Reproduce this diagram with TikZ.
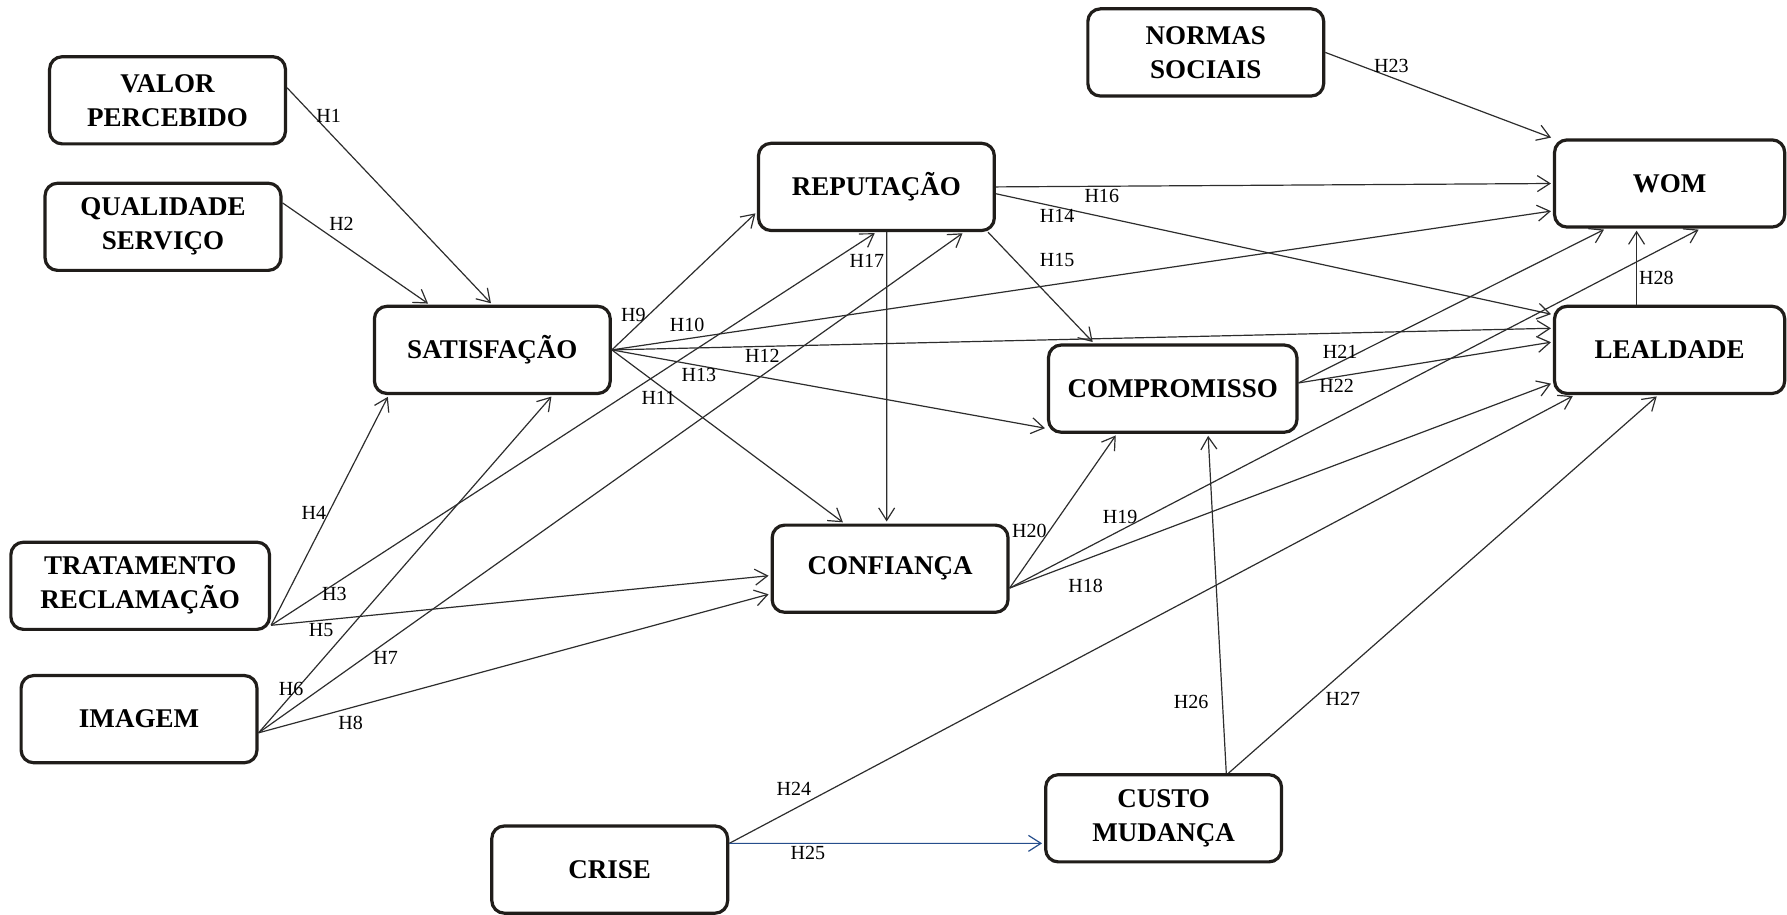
\documentclass[tikz,border=0pt]{standalone}
\usepackage{fontspec}
\setmainfont{Liberation Serif}
\usetikzlibrary{arrows.meta,positioning}

\definecolor{boxline}{RGB}{32,29,26}
\definecolor{arrowline}{RGB}{45,45,45}
\definecolor{hblue}{RGB}{38,78,140}

\begin{document}
\begin{tikzpicture}[
    x = 0.02cm, y = -0.02cm, % pixel grid of the figure
    > = {Straight Barb[length=2.2mm,width=2.8mm]}, % arrow head style
    shorten > = 1pt, % don't touch arrow head to node
    every edge/.append style = {draw = arrowline},
    semithick % line style
    ]

    \tikzset{
    construct/.style = {
        draw = boxline,
        line width = 1.6pt,
        rounded corners = 0.22cm,
        fill = white,
        minimum width = 4.14cm,
        minimum height = 1.53cm,
        align = center,
        font = \fontsize{13.5}{17}\selectfont\bfseries
        },
    hyp/.style = {font = \fontsize{10}{12}\selectfont, inner sep = 1pt}
    }
    \useasboundingbox (0,0) rectangle (1568,802);

    \node[construct] (val) at (147,88) {VALOR\\PERCEBIDO};
    \node[construct] (qual) at (143,199) {QUALIDADE\\SERVIÇO};
    \node[construct] (sat) at (432,307) {SATISFAÇÃO};
    \node[construct] (rep) at (769,164) {REPUTAÇÃO};
    \node[construct] (norm) at (1058,46) {NORMAS\\SOCIAIS};
    \node[construct, minimum width=4.04cm] (wom) at (1465,161) {WOM};
    \node[construct, minimum width=4.04cm] (leal) at (1465,307) {LEALDADE};
    \node[construct, minimum width=4.36cm] (comp) at (1029,341) {COMPROMISSO};
    \node[construct] (conf) at (781,499) {CONFIANÇA};
    \node[construct, minimum width=4.54cm] (trat) at (123,514) {TRATAMENTO\\RECLAMAÇÃO};
    \node[construct] (img) at (122,631) {IMAGEM};
    \node[construct] (crise) at (535,763) {CRISE};
    \node[construct] (custo) at (1021,718) {CUSTO\\MUDANÇA};

    \path[->] ([yshift=0.22cm]val.east) edge node[hyp, pos=0.13, right] {H1} (sat.north);
    \path[->] ([yshift=0.42cm]qual.east) edge node[hyp, pos=0.3, above right] {H2} ([xshift=-1.1cm]sat.north);
    \path[->] ([yshift=0.1cm]trat.south east) edge node[hyp, pos=0.08, right] {H3} (rep.south);
    \path[->] ([yshift=0.1cm]trat.south east) edge node[hyp, pos=0.49, left] {H4} ([xshift=0.28cm]sat.south west);
    \path[->] ([yshift=0.1cm]trat.south east) edge node[hyp, pos=0.1, below] {H5} ([yshift=-0.12cm]conf.west);
    \path[->] ([yshift=-0.24cm]img.east) edge node[hyp, pos=0.13, left, xshift=0.16cm] {H6} ([xshift=1.06cm]sat.south);
    \path[->] ([yshift=-0.24cm]img.east) edge node[hyp, pos=0.18, below=3pt] {H7} ([xshift=1.54cm]rep.south);
    \path[->] ([yshift=-0.24cm]img.east) edge node[hyp, pos=0.18, below=3pt] {H8} ([yshift=-0.44cm]conf.west);
    \path[->] (sat.east) edge node[hyp, pos=0.25, left] {H9} ([yshift=-0.44cm]rep.west);
    \path[->] (sat.east) edge node[hyp, pos=0.08, above=2pt] {H10} ([yshift=-0.48cm]wom.west);
    \path[->] (sat.east) edge node[hyp, pos=0.2, below=2pt] {H11} ([xshift=-0.8cm]conf.north);
    \path[->] (sat.east) edge node[hyp, pos=0.16, below] {H12} ([yshift=0.38cm]leal.west);
    \path[->] (sat.east) edge node[hyp, pos=0.2, below] {H13} ([yshift=-0.7cm]comp.west);
    \path[->] ([yshift=-0.12cm]rep.east) edge node[hyp, pos=0.11, below] {H14} ([yshift=0.62cm]leal.west);
    \path[->] ([xshift=-0.14cm]rep.south east) edge node[hyp, pos=0.25, right=0.4cm] {H15} ([xshift=-1.38cm]comp.north);
    \path[->] (rep.east) edge node[hyp, pos=0.19, below] {H16} (wom.west);
    \path[->] ([xshift=0.18cm]rep.south) edge node[hyp, pos=0.1, left] {H17} ([xshift=-0.06cm]conf.north);
    \path[->] ([yshift=-0.34cm]conf.east) edge node[hyp, pos=0.14, below=0.3cm] {H18} ([yshift=-0.58cm]leal.west);
    \path[->] ([yshift=-0.34cm]conf.east) edge node[hyp, pos=0.16, above=2pt] {H19} ([xshift=0.54cm]wom.south);
    \path[->] ([yshift=-0.34cm]conf.east) edge node[hyp, pos=0.37, left] {H20} ([xshift=-0.98cm]comp.south);
    \path[->] ([yshift=0.1cm]comp.east) edge node[hyp, pos=0.2, left] {H21} ([xshift=-1.12cm]wom.south);
    \path[->] ([yshift=0.1cm]comp.east) edge node[hyp, pos=0.15, below] {H22} ([yshift=0.14cm]leal.west);
    \path[->] (norm.east) edge node[hyp, pos=0.29, above=1pt] {H23} (wom.north west);
    \path[->] ([yshift=0.46cm]crise.east) edge node[hyp, pos=0.1, above left] {H24} ([xshift=0.38cm]leal.south west);
    \path[->] ([yshift=0.46cm]crise.east) edge[draw=hblue] node[hyp, pos=0.25, below] {H25} ([yshift=-0.44cm]custo.west);
    \path[->] ([xshift=1.1cm]custo.north) edge node[hyp, pos=0.21, left=0.2cm] {H26} ([xshift=0.62cm]comp.south);
    \path[->] ([xshift=1.14cm]custo.north) edge node[hyp, pos=0.22, below right] {H27} ([xshift=-0.2cm]leal.south);
    \path[->] ([xshift=-0.58cm]leal.north) edge node[hyp, pos=0.35, right] {H28} ([xshift=-0.58cm]wom.south);
\end{tikzpicture}
\end{document}
